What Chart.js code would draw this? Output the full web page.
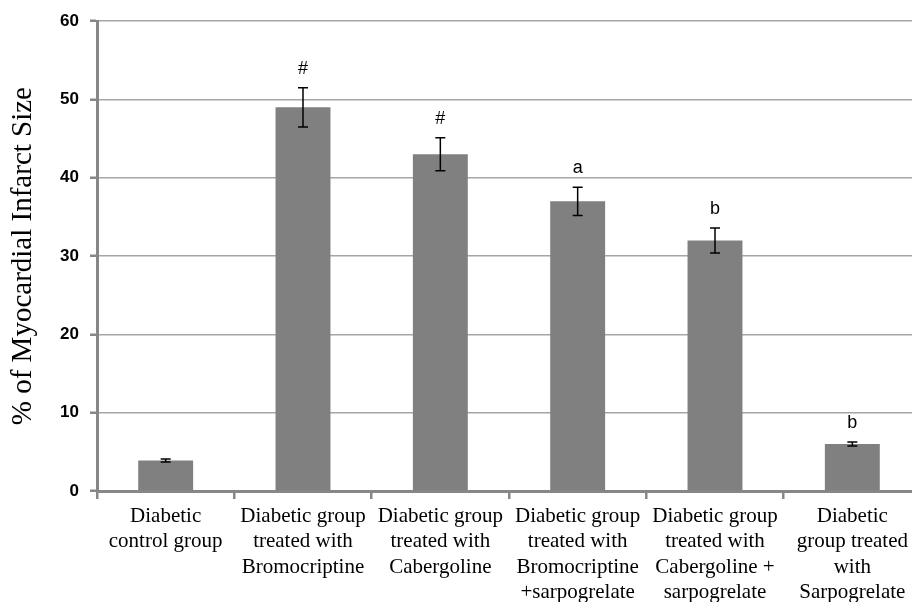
<!DOCTYPE html>
<html>
<head>
<meta charset="utf-8">
<script src="https://cdn.jsdelivr.net/npm/chart.js@4.4.1/dist/chart.umd.min.js"></script>
<style>
  html, body { margin: 0; padding: 0; background: #fff; overflow: hidden; }
  #wrap { width: 925px; height: 602px; }
</style>
</head>
<body>
<div id="wrap"><canvas id="infarct"></canvas></div>
<script>
// data
var groups = [
    ["Diabetic", "control group"],
    ["Diabetic group", "treated with", "Bromocriptine"],
    ["Diabetic group", "treated with", "Cabergoline"],
    ["Diabetic group", "treated with", "Bromocriptine", "+sarpogrelate"],
    ["Diabetic group", "treated with", "Cabergoline +", "sarpogrelate"],
    ["Diabetic", "group treated", "with", "Sarpogrelate"]
];
var infarctSize = [3.9, 49, 43, 37, 32, 6];
var infarctErr = [0.2, 2.5, 2.1, 1.8, 1.6, 0.25];
var markers = ["", "#", "#", "a", "b", "b"];
var yTicks = [0, 10, 20, 30, 40, 50, 60];

var axisGray = "#878787";

// error bars + significance marks
var errorBars = {
    id: "errorBars",
    afterDatasetsDraw: function (chart) {
        var ctx = chart.ctx;
        var x = chart.scales.x, y = chart.scales.y;
        ctx.save();
        ctx.strokeStyle = "#000";
        ctx.lineWidth = 1.5;
        ctx.fillStyle = "#000";
        ctx.font = "18px 'Liberation Sans', Arial, sans-serif";
        ctx.textAlign = "center";
        ctx.textBaseline = "bottom";
        infarctSize.forEach(function (v, i) {
            var cx = x.getPixelForValue(i);
            var top = y.getPixelForValue(v + infarctErr[i]);
            var bot = y.getPixelForValue(v - infarctErr[i]);
            ctx.beginPath();
            ctx.moveTo(cx, top); ctx.lineTo(cx, bot);
            ctx.moveTo(cx - 5, top); ctx.lineTo(cx + 5, top);
            ctx.moveTo(cx - 5, bot); ctx.lineTo(cx + 5, bot);
            ctx.stroke();
            if (markers[i]) {
                ctx.fillText(markers[i], cx, top - 10);
            }
        });
        ctx.restore();
    }
};

var ctx1 = document.getElementById("infarct").getContext("2d");
var myChart1 = new Chart(ctx1, {
    type: "bar",
    data: {
        labels: groups,
        datasets: [{
            data: infarctSize,
            backgroundColor: "#808080",
            borderWidth: 0,
            barPercentage: 0.4,
            categoryPercentage: 1
        }]
    },
    options: {
        responsive: true,
        maintainAspectRatio: false,
        animation: false,
        layout: { padding: { top: 16, right: 4, left: 0, bottom: 0 } },
        plugins: {
            legend: { display: false },
            tooltip: { enabled: false }
        },
        scales: {
            x: {
                afterFit: function (s) { s.height = 111; },
                border: { color: axisGray, width: 3 },
                grid: {
                    offset: true,
                    drawOnChartArea: false,
                    color: axisGray,
                    lineWidth: 2.5,
                    tickLength: 8
                },
                ticks: {
                    color: "#000",
                    padding: 5,
                    maxRotation: 0,
                    autoSkip: false,
                    font: { family: "'Liberation Serif', 'Times New Roman', serif", size: 21, lineHeight: 1.2 }
                }
            },
            y: {
                min: 0,
                max: 60,
                afterFit: function (s) { s.width = 97; },
                afterBuildTicks: function (s) {
                    s.ticks = yTicks.map(function (v) { return { value: v }; });
                },
                border: { color: axisGray, width: 3 },
                grid: {
                    color: "#a6a6a6",
                    lineWidth: 1.5,
                    tickLength: 7,
                    tickColor: axisGray,
                    tickWidth: 2.5
                },
                ticks: {
                    color: "#000",
                    padding: 11,
                    font: { family: "'Liberation Sans', Arial, sans-serif", size: 17, weight: "bold" }
                },
                title: {
                    display: true,
                    text: "% of Myocardial Infarct Size",
                    color: "#000",
                    padding: { top: 6, bottom: 0 },
                    font: { family: "'Liberation Serif', 'Times New Roman', serif", size: 29 }
                }
            }
        }
    },
    plugins: [errorBars]
});
</script>
</body>
</html>
